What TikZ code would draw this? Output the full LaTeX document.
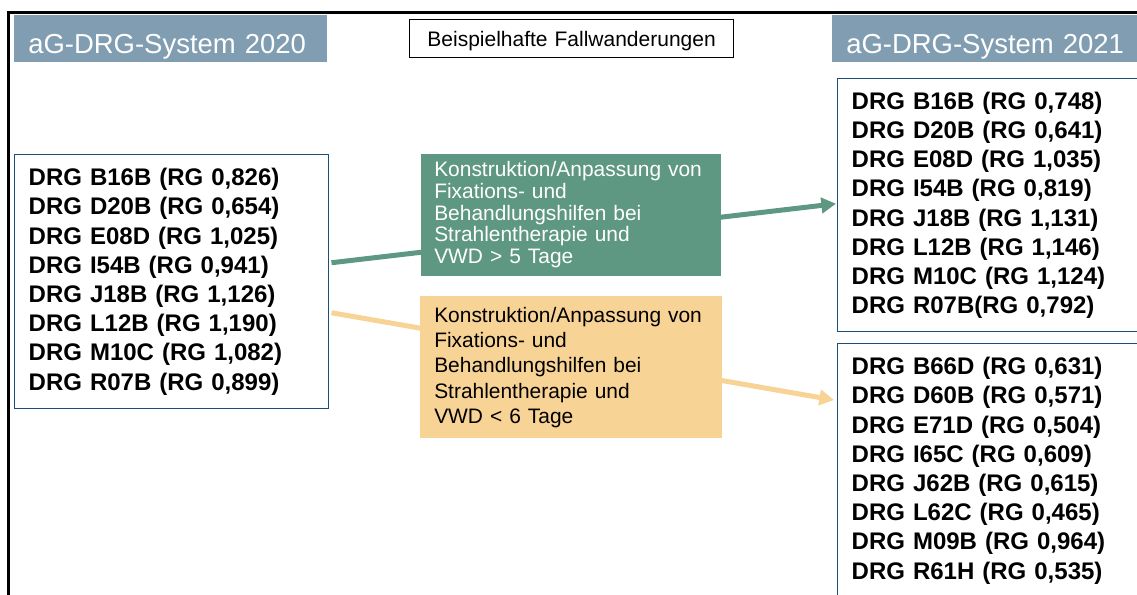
\documentclass[tikz,border=0pt]{standalone}
\usepackage{fontspec}
\setmainfont{Liberation Sans}
\usetikzlibrary{arrows.meta,calc,backgrounds}

\definecolor{titlebg}{RGB}{128,157,178}
\definecolor{greenbox}{RGB}{94,152,130}
\definecolor{orangebox}{RGB}{248,211,150}
\definecolor{listedge}{RGB}{31,78,121}

\newcommand{\headtext}[1]{\makebox[213.75pt][l]{#1}}

\tikzset{
  title/.style={fill=titlebg, text=white, anchor=north west, inner xsep=10.5pt,
    inner ysep=0pt, minimum width=234.75pt,
    font=\fontsize{20.6}{25}\selectfont, text height=29.25pt, text depth=6.3pt},
  drglist/.style={draw=listedge, line width=1.1pt, fill=white, anchor=north west,
    inner xsep=10.5pt, align=left, font=\fontsize{18}{21.9}\selectfont\bfseries},
  stepnote/.style={anchor=north west, align=left, text width=205.5pt,
    font=\fontsize{15.7}{16.2}\selectfont},
  flow/.style={line width=3.75pt, -{Triangle[length=11pt,width=11.5pt]}},
}

\begin{document}
\begin{tikzpicture}[x=0.75pt,y=-0.75pt]
  \useasboundingbox (0,0) rectangle (1137,594);
  \clip (0,0) rectangle (1137,594);

  % outer frame (top and left edges)
  \draw[line width=2.25pt] (8,600) -- (8,12) -- (1145,12);

  % headings
  \node[title] (y20) at (14,14.3) {\headtext{aG-DRG-System\hspace{0.33em}2020}};
  \node[title] (y21) at (832,14.3) {\headtext{aG-DRG-System\hspace{0.33em}2021}};
  \node[draw, line width=0.9pt, anchor=north west, inner xsep=0pt, inner ysep=0pt,
        text width=243pt, align=center, text height=20.25pt, text depth=8.5pt,
        font=\fontsize{15.75}{18}\selectfont] (caption) at (409,18.7)
        {Beispielhafte Fallwanderungen};

  % 2020 groups
  \node[drglist, text width=214.5pt, minimum height=190.5pt] (old) at (14,154)
    {DRG B16B (RG 0,826)\\
     DRG D20B (RG 0,654)\\
     DRG E08D (RG 1,025)\\
     DRG I54B (RG 0,941)\\
     DRG J18B (RG 1,126)\\
     DRG L12B (RG 1,190)\\
     DRG M10C (RG 1,082)\\
     DRG R07B (RG 0,899)};

  % 2021 groups
  \node[drglist, text width=213.75pt, minimum height=189.75pt] (newA) at (837,78)
    {DRG B16B (RG 0,748)\\
     DRG D20B (RG 0,641)\\
     DRG E08D (RG 1,035)\\
     DRG I54B (RG 0,819)\\
     DRG J18B (RG 1,131)\\
     DRG L12B (RG 1,146)\\
     DRG M10C (RG 1,124)\\
     DRG R07B(RG 0,792)};
  \node[drglist, text width=213.75pt, minimum height=190.5pt] (newB) at (837,343)
    {DRG B66D (RG 0,631)\\
     DRG D60B (RG 0,571)\\
     DRG E71D (RG 0,504)\\
     DRG I65C (RG 0,609)\\
     DRG J62B (RG 0,615)\\
     DRG L62C (RG 0,465)\\
     DRG M09B (RG 0,964)\\
     DRG R61H (RG 0,535)};

  % transition conditions
  \node[stepnote, fill=greenbox, text=white, inner xsep=9.75pt,
        minimum height=91.8pt] (condA) at (421,153.3)
    {Konstruktion/Anpassung von\\
     Fixations- und\\
     Behandlungshilfen bei\\
     Strahlentherapie und\\
     VWD > 5 Tage};
  \node[stepnote, fill=orangebox, text=black, inner xsep=10.5pt,
        minimum height=106.5pt, font=\fontsize{15.7}{19}\selectfont] (condB) at (420,296)
    {Konstruktion/Anpassung von\\
     Fixations- und\\
     Behandlungshilfen bei\\
     Strahlentherapie und\\
     VWD < 6 Tage};

  % case flows, passing behind the condition boxes
  \begin{scope}[on background layer]
    \draw[flow, greenbox] ($(old.east)+(2,-19)$) -- ($(newA.west)+(-1,-1.5)$);
    \draw[flow, orangebox] ($(old.east)+(2,31)$) -- ($(newB.north west)+(-3,57)$);
  \end{scope}
\end{tikzpicture}
\end{document}
